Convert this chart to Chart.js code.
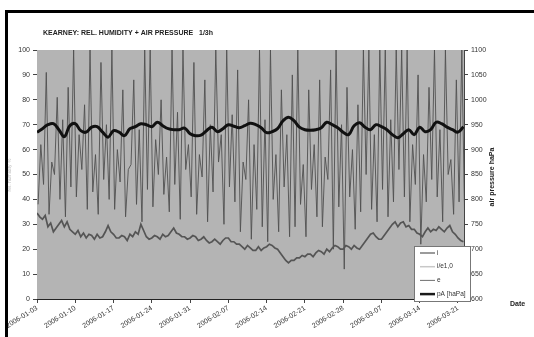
<!DOCTYPE html>
<html>
<head>
<meta charset="utf-8">
<script src="https://cdn.jsdelivr.net/npm/chart.js@4.4.1/dist/chart.umd.min.js"></script>
<style>
  body { margin: 0; background: #fff; overflow: hidden; }
  #wrap { position: relative; width: 534px; height: 337px; }
  #frame { position: absolute; left: 5px; top: 10px; width: 600px; height: 400px;
           border-top: 3px solid #000; border-left: 3px solid #000; pointer-events: none; }
</style>
</head>
<body>
<div id="wrap">
  <canvas id="chart" width="534" height="337"></canvas>
  <div id="frame"></div>
</div>
<script>
// tick labels, one every 7 days starting 2006-01-03 (day 0)
const dateLabels = ["2006-01-03", "2006-01-10", "2006-01-17", "2006-01-24", "2006-01-31", "2006-02-07",
  "2006-02-14", "2006-02-21", "2006-02-28", "2006-03-07", "2006-03-14", "2006-03-21"];

// e: outside rel. humidity, daily highs / lows (%)
const eHigh = [
  62, 91, 55, 81, 72, 85, 100,
  66, 78, 100, 58, 95, 70, 100,
  60, 84, 52, 88, 68, 100, 100,
  64, 80, 57, 100, 75, 100, 62,
  95, 58, 88, 70, 100, 66, 100,
  74, 92, 55, 80, 62, 100, 72,
  100, 58, 84, 66, 90, 100, 54,
  84, 62, 88, 57, 92, 100, 70,
  85, 60, 78, 100, 100, 66, 100,
  100, 72, 100, 100, 100, 62, 90,
  58, 85, 100, 68, 100, 56, 88, 100, 70
];
const eLow = [
  38, 46, 34, 50, 40, 33, 45,
  41, 52, 36, 43, 34, 48, 40,
  36, 47, 33, 54, 38, 31, 44,
  37, 50, 42, 35, 46, 32, 52,
  41, 34, 49, 31, 43, 55, 30,
  45, 39, 27, 48, 24, 36, 29,
  23, 40, 27, 45, 25, 29, 38,
  25, 44, 33, 29, 48, 20, 37,
  12, 41, 28, 35, 50, 36, 31,
  44, 33, 39, 52, 41, 31, 46,
  22, 39, 48, 41, 31, 50, 34, 39, 35
];

// i: inside rel. humidity, half-day steps (%)
const iHum = [
  34.5, 33, 32, 33.5, 29, 30.5, 27, 28.5, 30, 31.5, 29, 31, 28, 27,
  26, 27.5, 25, 26.5, 24.5, 26, 25.5, 24, 26, 24.5, 25, 27, 29.5, 27,
  26, 24.5, 24.5, 25.5, 25, 23.5, 26, 25, 27, 26, 30, 27.5, 25, 24,
  24.5, 25.5, 25, 24, 26, 25, 25.5, 27, 28.5, 26.5, 26, 25, 25, 24,
  24.5, 25.5, 25, 23.5, 24, 25, 23.5, 22.5, 23, 24, 23, 22, 23.5, 24.5,
  24.5, 23, 23, 22, 22, 21, 20, 21.5, 20.5, 19.5, 19.5, 21, 19.5, 20.5,
  21, 22, 21.5, 20.5, 20, 18.5, 17, 15.5, 14.5, 15.5, 15.5, 16.5, 16.5, 17.5,
  17, 18, 18, 17, 18.5, 19.5, 19, 18, 20, 19, 20.5, 21.5, 21, 20,
  20, 21.5, 21, 20, 21.5, 20.5, 20, 21.5, 23, 24.5, 26, 26.5, 25, 24,
  24, 25.5, 27, 28.5, 30, 31, 29, 30.5, 31, 29, 29.5, 28, 28, 26.5,
  26, 25, 27, 28.5, 27, 28, 27.5, 29, 28, 27, 28.5, 29.5, 27, 26,
  24.5, 23.5, 23
];

// i/e ratio: not visible in the plotted range
const ieRatio = [];

// pA: air pressure, daily (hPa)
const pressure = [
  935, 942, 950, 952, 940, 926, 948, 952, 938, 935,
  945, 946, 935, 925, 938, 935, 928, 942, 946, 952,
  950, 946, 955, 948, 942, 940, 940, 943, 932, 928,
  929, 938, 945, 936, 942, 950, 947, 944, 948, 953,
  950, 944, 934, 936, 942, 958, 965, 958, 945, 940,
  939, 940, 944, 955, 950, 944, 935, 930, 948, 954,
  945, 940, 950, 946, 940, 930, 924, 932, 940, 930,
  945, 936, 940, 955, 952, 945, 940, 935, 946
];

const eData = [];
eHigh.forEach((h, d) => {
  eData.push({ x: d + 0.2, y: eLow[d] });
  eData.push({ x: d + 0.7, y: h });
});
const iData = iHum.map((v, k) => ({ x: k / 2, y: v }));
const pData = pressure.map((v, d) => ({ x: d, y: v }));

const FONT = "Arial, 'Liberation Sans', sans-serif";

const legendItems = [
  { label: "i", color: "#7a7a7a", width: 1.5 },
  { label: "i/e1,0", color: "#c8c8c8", width: 1.5 },
  { label: "e", color: "#4a4a4a", width: 0.8 },
  { label: "pA [haPa]", color: "#1a1a1a", width: 2.5 }
];

const decorPlugin = {
  id: "decor",
  beforeDatasetsDraw(chart) {
    const { ctx, chartArea } = chart;
    ctx.save();
    ctx.fillStyle = "#b4b4b4";
    ctx.fillRect(chartArea.left, chartArea.top, chartArea.right - chartArea.left, chartArea.bottom - chartArea.top);
    ctx.restore();
  },
  afterDraw(chart) {
    const ctx = chart.ctx;
    ctx.save();
    ctx.fillStyle = "#222";
    ctx.font = "bold 7px " + FONT;
    ctx.textBaseline = "middle";
    ctx.fillText("KEARNEY: REL. HUMIDITY + AIR PRESSURE   1/3h", 43, 33);

    ctx.font = "bold 7px " + FONT;
    ctx.fillText("Date", 510, 304);

    // right axis title
    ctx.save();
    ctx.translate(492, 177);
    ctx.rotate(-Math.PI / 2);
    ctx.textAlign = "center";
    ctx.fillText("air pressure haPa", 0, 0);
    ctx.restore();

    // faint left axis title
    ctx.save();
    ctx.translate(10, 175);
    ctx.rotate(-Math.PI / 2);
    ctx.textAlign = "center";
    ctx.fillStyle = "#bdbdbd";
    ctx.font = "5px " + FONT;
    ctx.fillText("rel. humidity %", 0, 0);
    ctx.restore();

    // legend box
    const bx = 414, by = 246, bw = 56, bh = 55;
    ctx.fillStyle = "#fff";
    ctx.fillRect(bx, by, bw, bh);
    ctx.strokeStyle = "#777";
    ctx.lineWidth = 1;
    ctx.strokeRect(bx + 0.5, by + 0.5, bw, bh);
    ctx.font = "6.5px " + FONT;
    legendItems.forEach((item, k) => {
      const y = 253 + k * 13.7;
      ctx.strokeStyle = item.color;
      ctx.lineWidth = item.width;
      ctx.beginPath();
      ctx.moveTo(420, y);
      ctx.lineTo(435, y);
      ctx.stroke();
      ctx.fillStyle = "#333";
      ctx.fillText(item.label, 437, y);
    });
    ctx.restore();
  }
};

new Chart(document.getElementById("chart"), {
  type: "line",
  data: {
    datasets: [
      { label: "i", data: iData, yAxisID: "y", borderColor: "#555", borderWidth: 1.7, order: 1 },
      { label: "i/e1,0", data: ieRatio, yAxisID: "y", borderColor: "#c8c8c8", borderWidth: 1, order: 3 },
      { label: "e", data: eData, yAxisID: "y", borderColor: "#505050", borderWidth: 0.9, order: 2 },
      { label: "pA [haPa]", data: pData, yAxisID: "y1", borderColor: "#111", borderWidth: 3, tension: 0.4, order: 0 }
    ]
  },
  options: {
    responsive: false,
    animation: false,
    devicePixelRatio: 1,
    layout: { padding: { top: 50, left: 0, right: 0, bottom: 0 } },
    elements: { point: { radius: 0 }, line: { fill: false } },
    plugins: { legend: { display: false }, tooltip: { enabled: false } },
    scales: {
      x: {
        type: "linear",
        min: 0,
        max: 78.1,
        afterFit: s => { s.height = 38; },
        grid: { color: "#2e2e2e", lineWidth: 1, tickLength: 4, tickColor: "#444" },
        border: { color: "#222" },
        ticks: {
          stepSize: 7,
          includeBounds: false,
          autoSkip: false,
          maxRotation: 32,
          minRotation: 32,
          padding: 1,
          color: "#333",
          font: { family: FONT, size: 7 },
          callback: v => dateLabels[v / 7] || ""
        }
      },
      y: {
        position: "left",
        min: 0,
        max: 100,
        afterFit: s => { s.width = 37; },
        grid: { color: "#2e2e2e", lineWidth: 1, tickLength: 4, tickColor: "#444" },
        border: { color: "#222" },
        ticks: { stepSize: 10, padding: 3, color: "#333", font: { family: FONT, size: 7 } }
      },
      y1: {
        position: "right",
        min: 600,
        max: 1100,
        afterFit: s => { s.width = 70; },
        grid: { drawOnChartArea: false, tickLength: 4, tickColor: "#444" },
        border: { color: "#444" },
        ticks: { stepSize: 50, padding: 3, color: "#333", font: { family: FONT, size: 7 },
                 callback: v => String(v) }
      }
    }
  },
  plugins: [decorPlugin]
});
</script>
</body>
</html>
